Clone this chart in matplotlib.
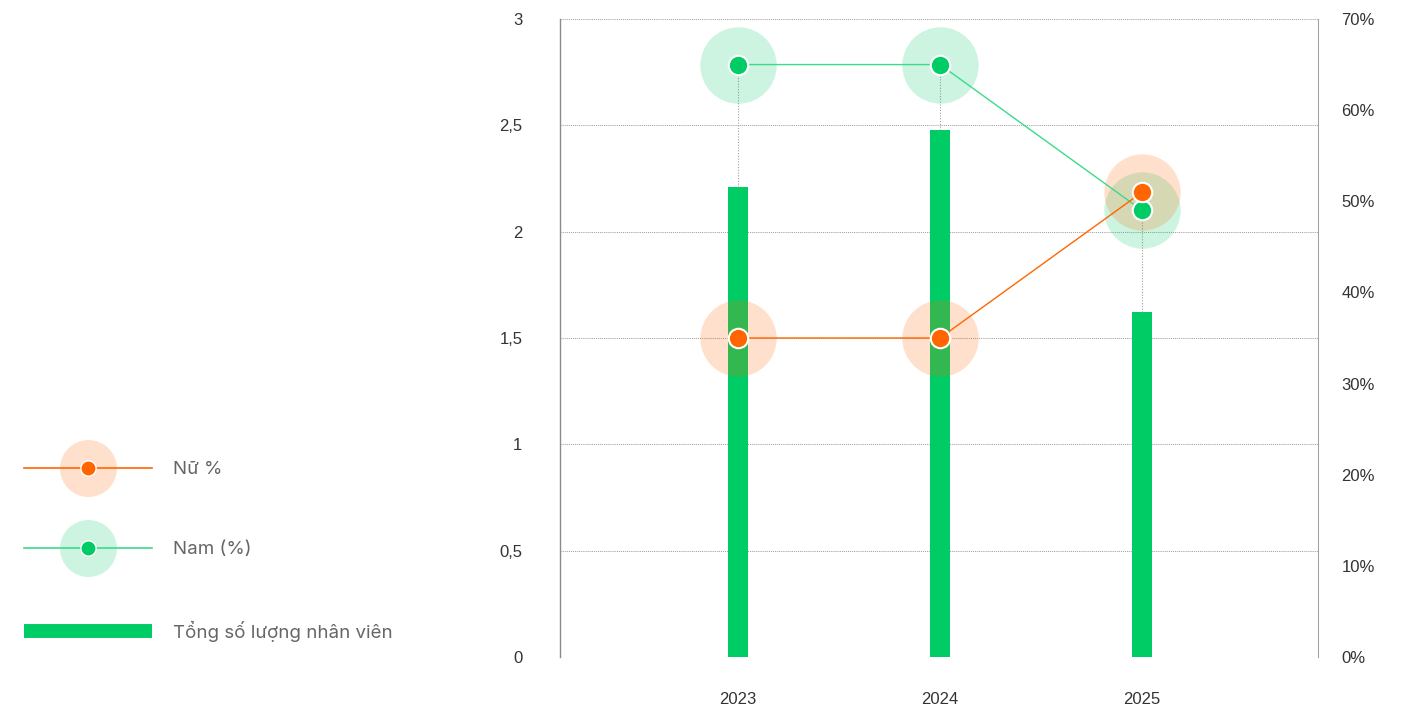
import matplotlib
matplotlib.use('Agg')
import matplotlib.pyplot as plt
from matplotlib.lines import Line2D
from matplotlib.ticker import FuncFormatter

plt.rcParams['font.family'] = ['Liberation Sans', 'DejaVu Sans']

# Dữ liệu
years = ['2023', '2024', '2025']
tong_nv = [2.21, 2.48, 1.62]      # Tổng số lượng nhân viên (trục trái)
nam_pct = [65, 65, 49]            # Nam (%) (trục phải)
nu_pct = [35, 35, 51]             # Nữ % (trục phải)
left_ticks = [0, 0.5, 1, 1.5, 2, 2.5, 3]
right_ticks = [0, 10, 20, 30, 40, 50, 60, 70]

green = '#00CC66'
green_line = '#3BDB8A'
orange = '#FF6600'
grid_c = '#A0A0A0'

fig = plt.figure(figsize=(14.04, 7.10), dpi=100)
ax = fig.add_axes([560 / 1404, 1 - 657 / 710, (1318 - 560) / 1404, (657 - 19) / 710])
ax2 = ax.twinx()

x = list(range(len(years)))
ax.bar(x, tong_nv, width=0.1, color=green, zorder=2)
ax.set_xlim(-0.88, 2.87)
ax.set_ylim(0, 3)
ax.set_yticks(left_ticks)
ax.yaxis.set_major_formatter(FuncFormatter(lambda v, p: ('%g' % v).replace('.', ',')))
ax.set_xticks(x)
ax.set_xticklabels(years)
ax.grid(axis='y', color=grid_c, linestyle=(0, (1, 1)), linewidth=0.75, zorder=0)
ax.tick_params(axis='y', length=0, pad=27, labelsize=12, labelcolor='#333333')
ax.tick_params(axis='x', length=0, pad=25, labelsize=12, labelcolor='#333333')
ax.spines['top'].set_visible(False)
ax.spines['bottom'].set_visible(False)
ax.spines['right'].set_visible(False)
ax.spines['left'].set_color('#8A8A8A')
ax.spines['left'].set_linewidth(1)

ax2.set_ylim(0, 70)
ax2.set_yticks(right_ticks)
ax2.yaxis.set_major_formatter(FuncFormatter(lambda v, p: '%d%%' % v))
ax2.tick_params(axis='y', length=0, pad=17, labelsize=12, labelcolor='#333333')
for s in ['top', 'bottom', 'left']:
    ax2.spines[s].set_visible(False)
ax2.spines['right'].set_color(grid_c)
ax2.spines['right'].set_linestyle((0, (1, 1)))
ax2.spines['right'].set_linewidth(0.75)

# đường chấm nối điểm với cột
bar_pct = [b * 70 / 3 for b in tong_nv]
tops = [max(a, b) for a, b in zip(nam_pct, nu_pct)]
ax2.vlines(x, bar_pct, tops, colors=grid_c, linestyles=(0, (1, 1.5)), linewidth=0.8, zorder=1)

# vòng mờ
ax2.plot(x, nam_pct, linestyle='none', marker='o', markersize=55, color=green,
         alpha=0.2, markeredgewidth=0, zorder=2)
ax2.plot(x, nu_pct, linestyle='none', marker='o', markersize=55, color=orange,
         alpha=0.2, markeredgewidth=0, zorder=2)
# đường + điểm
ax2.plot(x, nam_pct, color=green_line, linewidth=1, marker='o', markersize=14,
         markerfacecolor=green, markeredgecolor='white', markeredgewidth=1.5, zorder=3)
ax2.plot(x, nu_pct, color=orange, linewidth=1, marker='o', markersize=14,
         markerfacecolor=orange, markeredgecolor='white', markeredgewidth=1.5, zorder=4)

# chú giải
h_nu = (Line2D([], [], linestyle='none', marker='o', markersize=41, color=orange, alpha=0.2,
               markeredgewidth=0),
        Line2D([], [], color=orange, linewidth=1.2, marker='o', markersize=11,
               markerfacecolor=orange, markeredgecolor='white', markeredgewidth=1))
h_nam = (Line2D([], [], linestyle='none', marker='o', markersize=41, color=green, alpha=0.2,
                markeredgewidth=0),
         Line2D([], [], color=green_line, linewidth=1.2, marker='o', markersize=11,
                markerfacecolor=green, markeredgecolor='white', markeredgewidth=1))
h_bar = Line2D([], [], color=green, linewidth=10, solid_capstyle='butt')
leg = fig.legend([h_nu, h_nam, h_bar], ['Nữ %', 'Nam (%)', 'Tổng số lượng nhân viên'],
                 loc='upper left', bbox_to_anchor=(24 / 1404, 1 - 461 / 710),
                 frameon=False, handlelength=6.83, handletextpad=1.12,
                 labelspacing=3.35, borderpad=0, borderaxespad=0, labelcolor='#666666',
                 prop={'family': ['Inter', 'DejaVu Sans'], 'size': 13.5})

fig.savefig('out.png', dpi=100)
